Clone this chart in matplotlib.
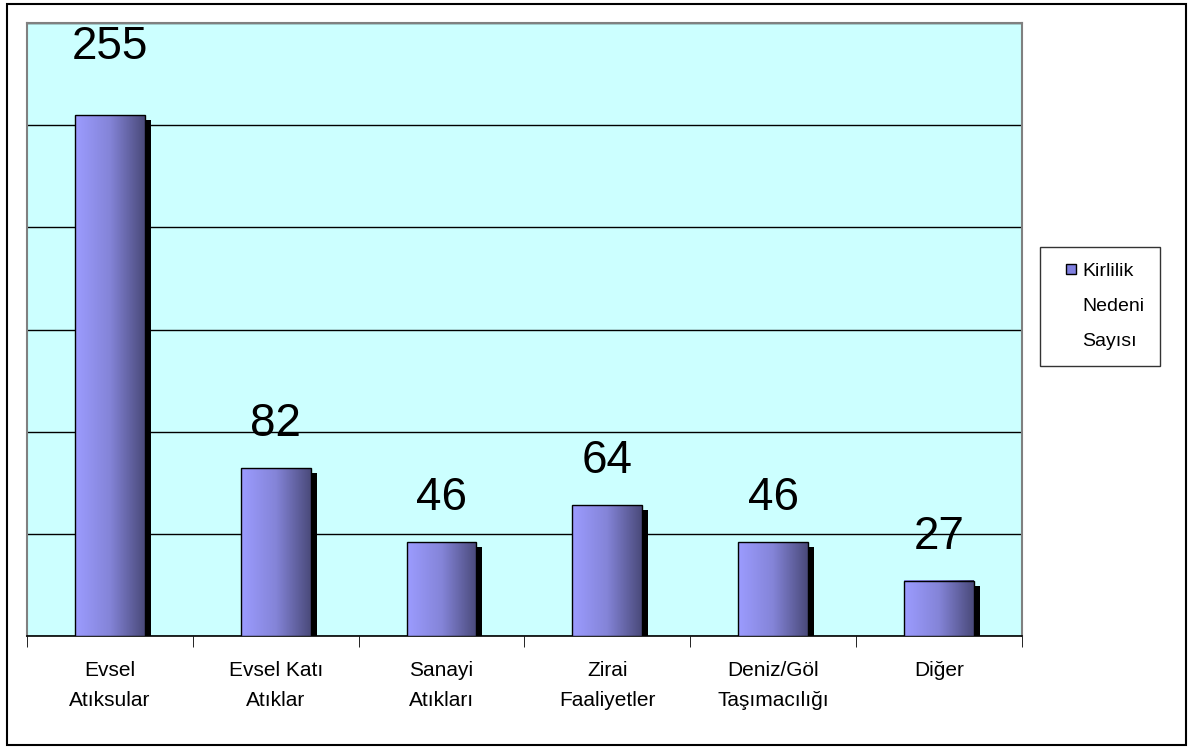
import numpy as np
import matplotlib
matplotlib.use('Agg')
import matplotlib.pyplot as plt
from matplotlib.colors import LinearSegmentedColormap
from matplotlib.patches import Rectangle
from matplotlib.lines import Line2D
import matplotlib.transforms as mtransforms

plt.rcParams['font.family'] = ['Liberation Sans', 'DejaVu Sans']

# Data
categories = ['Evsel\nAtıksular', 'Evsel Katı\nAtıklar', 'Sanayi\nAtıkları',
              'Zirai\nFaaliyetler', 'Deniz/Göl\nTaşımacılığı', 'Diğer']
values = [255, 82, 46, 64, 46, 27]
series_name = ['Kirlilik', 'Nedeni', 'Sayısı']
label_gap = [46, 22, 22, 22, 22, 22]  # pixels above bar top

fig = plt.figure(figsize=(11.92, 7.49), dpi=100)
ax = fig.add_axes([0.0227, 0.151, 0.8345, 0.818])
ax.set_facecolor('#CCFFFF')

bar_cmap = LinearSegmentedColormap.from_list('bar', ['#9C9CFF', '#8484D8', '#4A4A7A'])
grad = np.linspace(0, 1, 256).reshape(1, -1)
width = 0.42

x = np.arange(len(values))
shadow = mtransforms.offset_copy(ax.transData, fig=fig, x=6, y=-5, units='dots')
for xi, v in zip(x, values):
    x0, x1 = xi - width / 2, xi + width / 2
    ax.add_patch(Rectangle((x0, 0), width, v, facecolor='black', edgecolor='none',
                           transform=shadow, zorder=2))
    ax.imshow(grad, extent=[x0, x1, 0, v], aspect='auto', cmap=bar_cmap,
              interpolation='bicubic', zorder=3)
    ax.add_patch(Rectangle((x0, 0), width, v, facecolor='none', edgecolor='black',
                           linewidth=1.0, zorder=4))

for xi, v, g in zip(x, values, label_gap):
    ax.annotate(str(v), (xi, v), xytext=(0, g), textcoords='offset pixels',
                ha='center', va='bottom', fontsize=33)

ax.set_xlim(-0.5, len(values) - 0.5)
ax.set_ylim(0, 300)
ax.set_yticks(np.arange(0, 301, 50))
ax.set_yticklabels([])
ax.tick_params(axis='y', length=0)
ax.yaxis.grid(True, color='black', linewidth=1.0)
ax.set_axisbelow(True)

ax.set_xticks(x)
ax.set_xticklabels(categories, fontsize=15, linespacing=1.75)
ax.tick_params(axis='x', which='major', length=0, pad=18)
ax.set_xticks(np.arange(-0.5, len(values)), minor=True)
ax.tick_params(axis='x', which='minor', length=8, direction='out', color='black')

for s in ['left', 'top', 'right']:
    ax.spines[s].set_color('#808080')
    ax.spines[s].set_linewidth(1.5)
ax.spines['bottom'].set_color('black')
ax.spines['bottom'].set_linewidth(1.2)

handles = [Line2D([], [], linestyle='none', marker='s', markersize=7.5,
                  markerfacecolor='#8080E0', markeredgecolor='black', markeredgewidth=1.0),
           Line2D([], [], linestyle='none'),
           Line2D([], [], linestyle='none')]
leg = fig.legend(handles, series_name, loc='center',
                 bbox_to_anchor=(0.9228, 0.591), fontsize=14, frameon=True,
                 fancybox=False, handlelength=1.6, handletextpad=-0.2,
                 borderpad=0.8, labelspacing=0.9, borderaxespad=0)
leg.get_frame().set_edgecolor('black')
leg.get_frame().set_linewidth(1.0)

fig.patches.append(Rectangle((0.0059, 0.006), 0.9888, 0.988, transform=fig.transFigure,
                             fill=False, edgecolor='black', linewidth=1.5))

fig.savefig('out.png', dpi=100)
